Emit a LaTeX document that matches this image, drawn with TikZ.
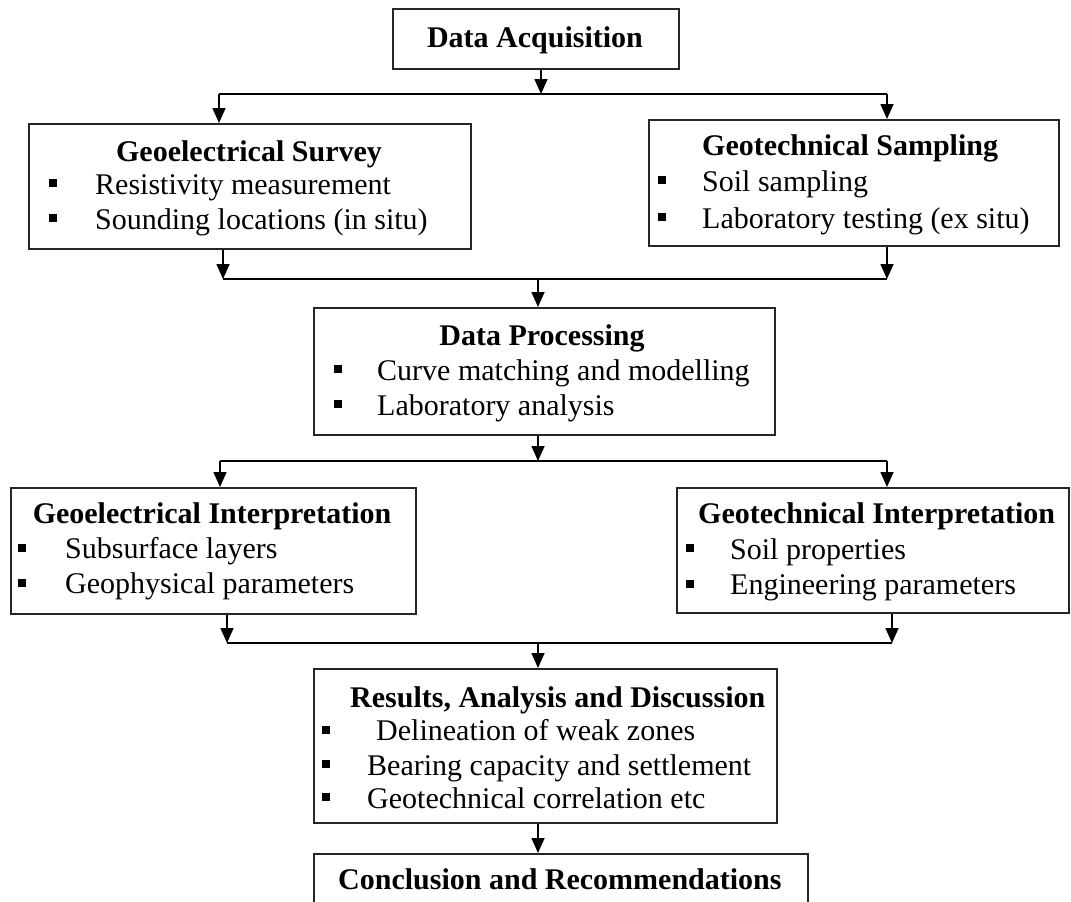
\documentclass[tikz,border=0pt]{standalone}
\usepackage{fontspec}
\setmainfont{Liberation Serif}
\usetikzlibrary{arrows.meta}
\begin{document}
\begin{tikzpicture}[x=1pt,y=-1pt,
  box/.style={draw=black!85, line width=1.8pt, inner sep=0pt, anchor=north west},
  ttl/.style={font=\fontsize{30}{36}\selectfont\bfseries, inner sep=0pt},
  itm/.style={font=\fontsize{30}{36}\selectfont, anchor=base west, inner sep=0pt},
  sq/.style={fill=black, inner sep=0pt, minimum size=8pt},
  arr/.style={line width=1.6pt, -{Triangle[width=13pt,length=15pt]}},
  ln/.style={line width=1.6pt}]
\useasboundingbox (0,0) rectangle (1071,902);
\clip (0,0) rectangle (1071,902);
\fill[white] (0,0) rectangle (1071,902);

% boxes
\node[box, minimum width=286pt, minimum height=60pt] (da) at (392,8) {};
\node[box, minimum width=442pt, minimum height=125pt] (ges) at (28,123) {};
\node[box, minimum width=410pt, minimum height=126pt] (gts) at (648,119) {};
\node[box, minimum width=461pt, minimum height=127pt] (dp) at (313,307) {};
\node[box, minimum width=405pt, minimum height=126pt] (gei) at (10,487) {};
\node[box, minimum width=392pt, minimum height=125pt] (gti) at (676,487) {};
\node[box, minimum width=463pt, minimum height=154pt] (res) at (313,668) {};
\node[box, minimum width=494pt, minimum height=80pt] (conc) at (313,853) {};

% texts
\node[ttl, anchor=base] (da-t) at (535,47) {Data Acquisition};

\node[ttl, anchor=base] (ges-t) at (249,161) {Geoelectrical Survey};
\node[sq] (ges-b1) at (53,183) {};
\node[itm] (ges-i1) at (95,194) {Resistivity measurement};
\node[sq] (ges-b2) at (53,218) {};
\node[itm] (ges-i2) at (95,229) {Sounding locations (in situ)};

\node[ttl, anchor=base west] (gts-t) at (702,155) {Geotechnical Sampling};
\node[sq] (gts-b1) at (662,180) {};
\node[itm] (gts-i1) at (702,191) {Soil sampling};
\node[sq] (gts-b2) at (662,217) {};
\node[itm] (gts-i2) at (702,228) {Laboratory testing (ex situ)};

\node[ttl, anchor=base] (dp-t) at (542,345) {Data Processing};
\node[sq] (dp-b1) at (338,369) {};
\node[itm] (dp-i1) at (377,380) {Curve matching and modelling};
\node[sq] (dp-b2) at (338,404) {};
\node[itm] (dp-i2) at (377,415) {Laboratory analysis};

\node[ttl, anchor=base] (gei-t) at (212,523) {Geoelectrical Interpretation};
\node[sq] (gei-b1) at (22,548) {};
\node[itm] (gei-i1) at (65,558) {Subsurface layers};
\node[sq] (gei-b2) at (22,583) {};
\node[itm] (gei-i2) at (65,593) {Geophysical parameters};

\node[ttl, anchor=base west] (gti-t) at (698,523) {Geotechnical Interpretation};
\node[sq] (gti-b1) at (690,548) {};
\node[itm] (gti-i1) at (730,559) {Soil properties};
\node[sq] (gti-b2) at (690,584) {};
\node[itm] (gti-i2) at (730,594) {Engineering parameters};

\node[ttl, anchor=base west] (res-t) at (350,707) {Results, Analysis and Discussion};
\node[sq] (res-b1) at (326,730) {};
\node[itm] (res-i1) at (376,740) {Delineation of weak zones};
\node[sq] (res-b2) at (326,764) {};
\node[itm] (res-i2) at (367,775) {Bearing capacity and settlement};
\node[sq] (res-b3) at (326,797) {};
\node[itm] (res-i3) at (367,808) {Geotechnical correlation etc};

\node[ttl, anchor=base west] (conc-t) at (338,889) {Conclusion and Recommendations};

% junctions
\coordinate (h1l) at (219,94);
\coordinate (h1m) at (541,94);
\coordinate (h1r) at (887,94);
\coordinate (h2l) at (223,279);
\coordinate (h2m) at (538,279);
\coordinate (h2r) at (887,279);
\coordinate (h3l) at (220,461);
\coordinate (h3m) at (538,461);
\coordinate (h3r) at (887,461);
\coordinate (h4l) at (227,643);
\coordinate (h4m) at (538,643);
\coordinate (h4r) at (892,643);

% connectors
\draw[arr] (da.south -| h1m) -- (h1m);
\draw[ln] (h1l) -- (h1r);
\draw[arr] (h1l) -- (h1l |- ges.north);
\draw[arr] (h1r) -- (h1r |- gts.north);

\draw[arr] (ges.south -| h2l) -- (h2l);
\draw[arr] (gts.south -| h2r) -- (h2r);
\draw[ln] (h2l) -- (h2r);
\draw[arr] (h2m) -- (h2m |- dp.north);

\draw[arr] (dp.south -| h3m) -- (h3m);
\draw[ln] (h3l) -- (h3r);
\draw[arr] (h3l) -- (h3l |- gei.north);
\draw[arr] (h3r) -- (h3r |- gti.north);

\draw[arr] (gei.south -| h4l) -- (h4l);
\draw[arr] (gti.south -| h4r) -- (h4r);
\draw[ln] (h4l) -- (h4r);
\draw[arr] (h4m) -- (h4m |- res.north);

\draw[arr] (res.south -| h4m) -- (conc.north -| h4m);
\end{tikzpicture}
\end{document}
